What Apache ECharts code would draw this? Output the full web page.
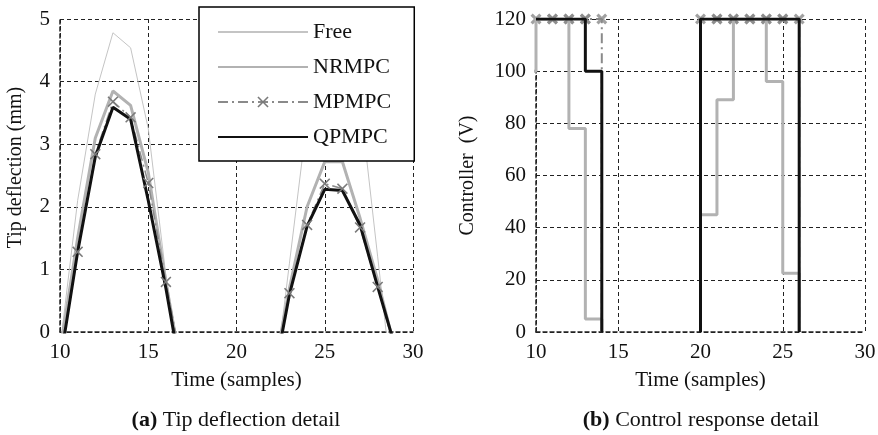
<!DOCTYPE html>
<html>
<head>
<meta charset="utf-8">
<title>Tip deflection and control response detail</title>
<script src="https://cdn.jsdelivr.net/npm/echarts@6.0.0/dist/echarts.min.js"></script>
<style>
  html, body { margin: 0; padding: 0; background: #fff; }
  #chart { width: 878px; height: 435px; }
</style>
</head>
<body>
<div id="chart"></div>
<script>
// time axis (samples)
var samples = [10, 11, 12, 13, 14, 15, 16, 17, 18, 19, 20, 21, 22, 23, 24, 25, 26, 27, 28, 29, 30];
var timeTicks = [10, 15, 20, 25, 30];

// (a) tip deflection in mm, values under 0 are cut off by the axis
var freeDefl  = [-0.25, 2.1, 3.8, 4.78, 4.54, 3.25, 0.9, -0.8, null, null, null, null, -1.2, 1.1, 3.4, 4.1, 4.2, 3.7, 1.2, -1.3, null];
var nrmpcDefl = [-0.3, 1.5, 3.1, 3.85, 3.62, 2.55, 0.8, -0.8, null, null, null, null, -0.8, 0.7, 2.0, 2.72, 2.72, 1.82, 0.83, -0.3, null];
var mpmpcDefl = [-0.4, 1.28, 2.84, 3.68, 3.43, 2.38, 0.8, -0.7, null, null, null, null, -0.9, 0.62, 1.71, 2.37, 2.29, 1.67, 0.72, -0.3, null];
var qpmpcDefl = [-0.5, 1.28, 2.8, 3.59, 3.4, 2.1, 0.7, -0.9, null, null, null, null, -0.9, 0.6, 1.69, 2.28, 2.26, 1.71, 0.72, -0.25, null];
var deflTicks = [0, 1, 2, 3, 4, 5];

// (b) controller voltage in V, held until the next sample
var nrmpcSamples = [9, 10, 11, 12, 13, 14, 15, 16, 17, 18, 19, 20, 21, 22, 23, 24, 25, 26, 27, 28, 29, 30];
var nrmpcVolt = [100, 120, 120, 78, 5, 0, 0, 0, 0, 0, 0, 45, 89, 120, 120, 96, 22.5, 0, 0, 0, 0, 0];
var mpmpcVolt = [120, 120, 120, 120, 0, 0, 0, 0, 0, 0, 120, 120, 120, 120, 120, 120, 0, 0, 0, 0, 0];
var qpmpcVolt = [120, 120, 120, 100, 0, 0, 0, 0, 0, 0, 120, 120, 120, 120, 120, 120, 0, 0, 0, 0, 0];
var voltTicks = [0, 20, 40, 60, 80, 100, 120];

var serif = '"Liberation Serif", "Times New Roman", serif';
var ink = '#111';
var gridDash = { color: '#222', width: 1, type: [4, 3] };

// thin and bold cross markers
var crossThin = 'path://M1,0L5,4L9,0L10,1L6,5L10,9L9,10L5,6L1,10L0,9L4,5L0,1Z';
var crossBold = 'path://M2,0L5,3L8,0L10,2L7,5L10,8L8,10L5,7L2,10L0,8L3,5L0,2Z';

function pairs(xs, ys) {
  return xs.map(function (x, i) { return [x, ys[i]]; });
}

// zero-order hold corners; runs lying on the time axis are left out
function stairs(xs, ys) {
  var pts = [];
  for (var i = 0; i < xs.length; i++) {
    var x = xs[i], y = ys[i];
    if (y === 0) {
      if (i > 0 && ys[i - 1] !== 0) pts.push([x, 0]);
      pts.push([x, null]);
      continue;
    }
    if (i > 0 && ys[i - 1] === 0) pts.push([x, 0]);
    pts.push([x, y]);
    if (i + 1 < xs.length) pts.push([xs[i + 1], y]);
  }
  return pts;
}

// stair corners where MPMPC sits at its limit
var mpmpcMarks = [];
samples.forEach(function (k, i) {
  if (mpmpcVolt[i] > 0) {
    mpmpcMarks.push([k, mpmpcVolt[i]]);
    mpmpcMarks.push([k + 1, mpmpcVolt[i]]);
  }
});

function timeAxis(gridIndex) {
  return {
    type: 'value',
    gridIndex: gridIndex,
    min: timeTicks[0],
    max: timeTicks[timeTicks.length - 1],
    interval: timeTicks[1] - timeTicks[0],
    name: 'Time (samples)',
    nameLocation: 'middle',
    nameGap: 38,
    nameTextStyle: { fontFamily: serif, fontSize: 21, color: ink },
    axisLine: { show: true, lineStyle: { color: '#222', width: 1.5, type: [4, 3] } },
    axisTick: { show: false },
    axisLabel: { fontFamily: serif, fontSize: 21, color: ink, margin: 10 },
    splitLine: { show: true, lineStyle: gridDash }
  };
}

function valueAxis(gridIndex, ticks, name, gap, pad) {
  return {
    type: 'value',
    gridIndex: gridIndex,
    min: ticks[0],
    max: ticks[ticks.length - 1],
    interval: ticks[1] - ticks[0],
    name: name,
    nameLocation: 'middle',
    nameGap: gap,
    nameTextStyle: { fontFamily: serif, fontSize: 20, color: ink, padding: pad },
    axisLine: { show: true, lineStyle: { color: '#222', width: 1.5, type: [4, 3] } },
    axisTick: { show: false },
    axisLabel: { fontFamily: serif, fontSize: 21, color: ink, margin: 10 },
    splitLine: { show: true, lineStyle: gridDash }
  };
}

var chart = echarts.init(document.getElementById('chart'), null, { renderer: 'canvas' });

var noDot = { opacity: 0 };

var option = {
  animation: false,
  backgroundColor: '#fff',
  grid: [
    { left: 60, top: 19, width: 353, height: 313, outerBoundsMode: 'none' },
    { left: 536, top: 19, width: 329, height: 313, outerBoundsMode: 'none' }
  ],
  xAxis: [timeAxis(0), timeAxis(1)],
  yAxis: [
    valueAxis(0, deflTicks, 'Tip deflection (mm)', 34, [0, 0, 0, 16]),
    valueAxis(1, voltTicks, 'Controller  (V)', 58, [0, 0, 0, 0])
  ],
  legend: {
    data: [
      { name: 'Free', itemStyle: noDot },
      { name: 'NRMPC', itemStyle: noDot },
      { name: 'MPMPC' },
      { name: 'QPMPC', itemStyle: noDot }
    ],
    orient: 'vertical',
    left: 199,
    top: 7,
    padding: [14, 23, 13, 18],
    itemGap: 13,
    itemWidth: 90,
    itemHeight: 14,
    backgroundColor: '#fff',
    borderColor: '#000',
    borderWidth: 1.5,
    borderRadius: 0,
    textStyle: { fontFamily: serif, fontSize: 22, color: ink, lineHeight: 22 }
  },
  graphic: [
    {
      type: 'text', x: 236, y: 420,
      style: {
        text: '{b|(a)} Tip deflection detail',
        fontFamily: serif, fontSize: 22, fill: ink,
        align: 'center', verticalAlign: 'middle',
        rich: { b: { fontFamily: serif, fontSize: 22, fontWeight: 'bold', fill: ink } }
      }
    },
    {
      type: 'text', x: 701, y: 420,
      style: {
        text: '{b|(b)} Control response detail',
        fontFamily: serif, fontSize: 22, fill: ink,
        align: 'center', verticalAlign: 'middle',
        rich: { b: { fontFamily: serif, fontSize: 22, fontWeight: 'bold', fill: ink } }
      }
    }
  ],
  series: [
    // (a)
    {
      name: 'Free', type: 'line', xAxisIndex: 0, yAxisIndex: 0,
      data: pairs(samples, freeDefl),
      symbol: 'none', clip: true,
      lineStyle: { color: '#c4c4c4', width: 1 },
      itemStyle: { color: '#c4c4c4' }
    },
    {
      name: 'NRMPC', type: 'line', xAxisIndex: 0, yAxisIndex: 0,
      data: pairs(samples, nrmpcDefl),
      symbol: 'none', clip: true,
      lineStyle: { color: '#b2b2b2', width: 3 },
      itemStyle: { color: '#b2b2b2' }
    },
    {
      name: 'MPMPC', type: 'line', xAxisIndex: 0, yAxisIndex: 0,
      data: pairs(samples, mpmpcDefl),
      symbol: crossThin, symbolSize: 11, clip: true,
      lineStyle: { color: '#8a8a8a', width: 1.5, type: [10, 4, 2, 4] },
      itemStyle: { color: '#7a7a7a' }
    },
    {
      name: 'QPMPC', type: 'line', xAxisIndex: 0, yAxisIndex: 0,
      data: pairs(samples, qpmpcDefl),
      symbol: 'none', clip: true,
      lineStyle: { color: '#111', width: 3 },
      itemStyle: { color: '#111' }
    },
    // (b)
    {
      name: 'NRMPC', type: 'line', xAxisIndex: 1, yAxisIndex: 1,
      data: stairs(nrmpcSamples, nrmpcVolt),
      symbol: 'none', clip: true,
      lineStyle: { color: '#b2b2b2', width: 3 }
    },
    {
      name: 'MPMPC', type: 'line', xAxisIndex: 1, yAxisIndex: 1,
      data: stairs(samples, mpmpcVolt),
      symbol: 'none', clip: true,
      lineStyle: { color: '#8a8a8a', width: 2, type: [10, 4, 2, 4] }
    },
    {
      name: 'QPMPC', type: 'line', xAxisIndex: 1, yAxisIndex: 1,
      data: stairs(samples, qpmpcVolt),
      symbol: 'none', clip: true,
      lineStyle: { color: '#111', width: 3 }
    },
    {
      name: 'MPMPC', type: 'scatter', xAxisIndex: 1, yAxisIndex: 1,
      data: mpmpcMarks,
      symbol: crossBold, symbolSize: 11, clip: false,
      itemStyle: { color: '#8a8a8a' }
    }
  ]
};

chart.setOption(option);
</script>
</body>
</html>
